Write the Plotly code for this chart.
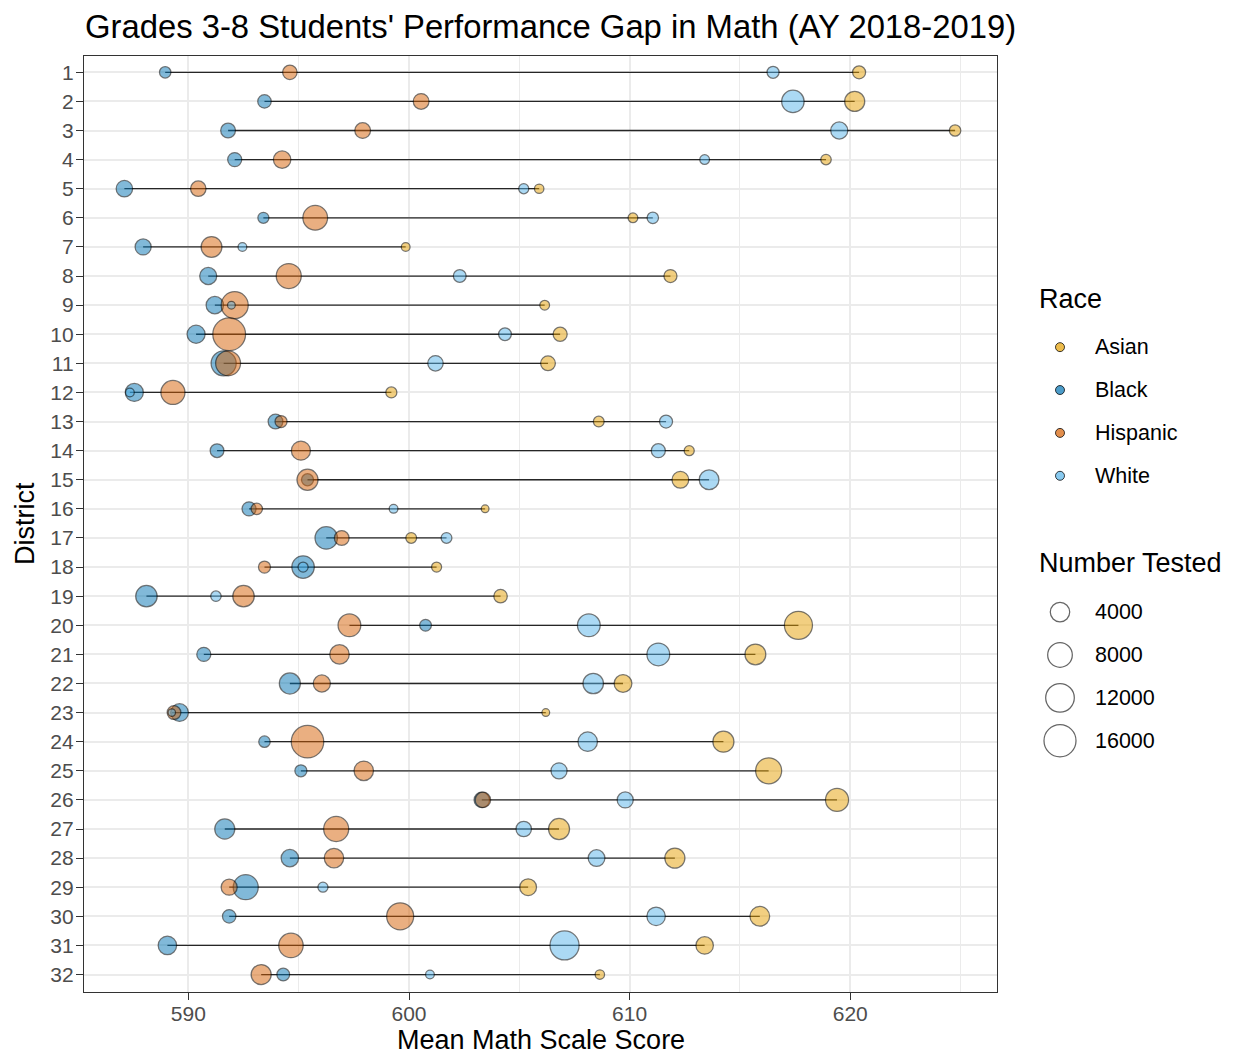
import numpy as np
import plotly.graph_objects as go

# ---------------- data ----------------
districts = list(range(1, 33))
races = ["Asian", "Black", "Hispanic", "White"]

asian_score = [620.4, 620.2, 624.75, 618.9, 605.9, 610.15, 599.85, 611.85, 606.15, 606.85,
               606.3, 599.2, 608.6, 612.7, 612.3, 603.45, 600.1, 601.25, 604.15, 617.65,
               615.7, 609.7, 606.2, 614.25, 616.3, 619.4, 606.8, 612.05, 605.4, 615.9,
               613.4, 608.65]
asian_n = [970, 4400, 530, 330, 170, 210, 90, 970, 210, 1310,
           1580, 445, 385, 260, 2475, 20, 385, 260, 1100, 11350,
           4880, 3000, 20, 5090, 9300, 6630, 5090, 4400, 2475, 4200,
           2840, 170]

black_score = [588.95, 593.45, 591.8, 592.1, 587.1, 593.4, 587.95, 590.9, 591.2, 590.35,
               591.6, 587.55, 593.95, 591.3, 595.4, 592.75, 596.25, 595.2, 588.1, 600.75,
               590.7, 594.6, 589.6, 593.45, 595.1, 603.3, 591.65, 594.6, 592.6, 591.85,
               589.05, 594.3]
black_n = [530, 1100, 1580, 1310, 2330, 445, 2140, 2630, 2840, 3170,
           8400, 3170, 1580, 1200, 680, 1310, 6150, 6150, 5380, 605,
           1310, 5090, 3000, 530, 680, 1870, 4400, 2840, 8360, 1100,
           3400, 880]

hispanic_score = [594.6, 600.55, 597.9, 594.25, 590.45, 595.75, 591.05, 594.55, 592.1, 591.85,
                  591.8, 589.3, 594.2, 595.1, 595.4, 593.1, 596.95, 593.45, 592.5, 597.3,
                  596.85, 596.05, 589.35, 595.4, 597.95, 603.35, 596.7, 596.6, 591.85, 599.6,
                  594.65, 593.3]
hispanic_n = [1460, 2000, 2000, 2840, 1870, 8090, 4880, 8360, 10300, 16940,
              8200, 7470, 680, 3760, 5090, 530, 1580, 680, 5380, 6380,
              4010, 2630, 1200, 16550, 4010, 1870, 8360, 4010, 2140, 10300,
              7820, 4400]

white_score = [616.5, 617.4, 619.5, 613.4, 605.2, 611.05, 592.45, 602.3, 591.95, 604.35,
               601.2, 587.35, 611.65, 611.3, 613.6, 599.3, 601.7, 595.2, 591.25, 608.15,
               611.3, 608.35, 589.25, 608.1, 606.8, 609.8, 605.2, 608.5, 596.1, 611.2,
               607.05, 600.95]
white_n = [680, 6150, 2630, 210, 260, 530, 90, 880, 20, 880,
           1870, 90, 970, 1310, 4200, 90, 385, 260, 330, 6380,
           6380, 4670, 10, 4010, 2140, 2140, 1870, 2475, 260, 3400,
           12450, 90]

size_breaks = [4000, 8000, 12000, 16000]

# ---------------- styling ----------------
FONT = "Liberation Sans, Arial, Helvetica, sans-serif"
fills = {
    "Asian": "rgba(230,159,0,0.7)",
    "Black": "rgba(0,114,178,0.7)",
    "Hispanic": "rgba(213,94,0,0.7)",
    "White": "rgba(86,180,233,0.7)",
}
OUTLINE = "rgba(0,0,0,0.75)"
LW = 1.25


def diam(n):
    n = np.asarray(n, dtype=float)
    return 8.1 + 0.199 * np.sqrt(n) - LW


scores = {"Asian": asian_score, "Black": black_score,
          "Hispanic": hispanic_score, "White": white_score}
counts = {"Asian": asian_n, "Black": black_n,
          "Hispanic": hispanic_n, "White": white_n}

fig = go.Figure()

# connecting segments (min to max score in each district)
all_scores = np.array([asian_score, black_score, hispanic_score, white_score])
seg_x, seg_y = [], []
for i, d in enumerate(districts):
    seg_x += [all_scores[:, i].min(), all_scores[:, i].max(), None]
    seg_y += [d, d, None]
fig.add_trace(go.Scatter(x=seg_x, y=seg_y, mode="lines",
                         line=dict(color="#262626", width=1.3),
                         showlegend=False, hoverinfo="skip"))

for r in races:
    fig.add_trace(go.Scatter(
        x=scores[r], y=districts, mode="markers", name=r,
        marker=dict(size=diam(counts[r]), color=fills[r],
                    line=dict(color=OUTLINE, width=LW)),
        showlegend=False,
    ))

# ---------------- geometry ----------------
W, H = 1236, 1055
ML, MT, MB = 84, 55.5, 63.3
plot_w = W - ML
plot_h = H - MT - MB
panel_right = 997
xdom_end = (panel_right - ML) / plot_w


def px_to_paper_x(px):
    return (px - ML) / plot_w


def px_to_paper_y(py):
    return (H - MB - py) / plot_h


# ---------------- legend (drawn in an auxiliary pixel-scaled panel) ----------------
LX0, LX1 = 1000, 1236
key_x, lab_x, title_x = 1060, 1093, 1037
race_y0, size_y0, step = 346.7, 611.7, 42.9
race_title_y, size_title_y = 299, 563

annotations = []
for i, r in enumerate(races):
    fig.add_trace(go.Scatter(
        x=[key_x], y=[race_y0 + i * step], mode="markers", xaxis="x2", yaxis="y2",
        marker=dict(size=9, color=fills[r], line=dict(color=OUTLINE, width=1)),
        showlegend=False, hoverinfo="skip"))
    annotations.append(dict(x=lab_x, y=race_y0 + i * step, xref="x2", yref="y2",
                            text=r, showarrow=False, xanchor="left", yanchor="middle",
                            font=dict(size=21.5, color="black", family=FONT)))
for j, s in enumerate(size_breaks):
    fig.add_trace(go.Scatter(
        x=[key_x], y=[size_y0 + j * step], mode="markers", xaxis="x2", yaxis="y2",
        marker=dict(size=float(diam(s)), color="rgba(255,255,255,0)",
                    line=dict(color="#666666", width=LW)),
        showlegend=False, hoverinfo="skip"))
    annotations.append(dict(x=lab_x, y=size_y0 + j * step, xref="x2", yref="y2",
                            text=str(s), showarrow=False, xanchor="left", yanchor="middle",
                            font=dict(size=21.5, color="black", family=FONT)))
annotations.append(dict(x=title_x, y=race_title_y, xref="x2", yref="y2", text="Race",
                        showarrow=False, xanchor="left", yanchor="middle",
                        font=dict(size=27, color="black", family=FONT)))
annotations.append(dict(x=title_x, y=size_title_y, xref="x2", yref="y2", text="Number Tested",
                        showarrow=False, xanchor="left", yanchor="middle",
                        font=dict(size=27, color="black", family=FONT)))

# axis titles
annotations.append(dict(x=px_to_paper_x((ML + panel_right) / 2), y=px_to_paper_y(1040),
                        xref="paper", yref="paper", text="Mean Math Scale Score",
                        showarrow=False, xanchor="center", yanchor="middle",
                        font=dict(size=27, color="black", family=FONT)))
annotations.append(dict(x=px_to_paper_x(25), y=px_to_paper_y((MT + H - MB) / 2),
                        xref="paper", yref="paper", text="District", textangle=-90,
                        showarrow=False, xanchor="center", yanchor="middle",
                        font=dict(size=27, color="black", family=FONT)))

x2dom_start = (LX0 - ML) / plot_w

fig.update_layout(
    width=W, height=H,
    margin=dict(l=ML, r=0, t=MT, b=MB, pad=0, autoexpand=False),
    paper_bgcolor="white", plot_bgcolor="white",
    font=dict(family=FONT, color="black"),
    title=dict(text="Grades 3-8 Students' Performance Gap in Math (AY 2018-2019)",
               x=85 / W, xanchor="left", xref="container",
               y=1 - 27 / H, yanchor="middle", yref="container",
               font=dict(size=32.8, color="black", family=FONT)),
    showlegend=False,
    annotations=annotations,
    xaxis=dict(
        domain=[0, xdom_end], range=[585.27, 626.65], automargin=False,
        tickvals=[590, 600, 610, 620], ticks="outside", ticklen=7, tickwidth=1.2,
        tickcolor="#333333", showgrid=True, gridcolor="#EBEBEB", gridwidth=2,
        minor=dict(tickvals=[595, 605, 615, 625], showgrid=True, gridcolor="#EBEBEB",
                   gridwidth=1, ticks=""),
        showline=True, mirror=True, linecolor="#333333", linewidth=1.3, zeroline=False,
        tickfont=dict(size=21, color="#4D4D4D", family=FONT),
        ticklabelstandoff=-4,
    ),
    yaxis=dict(
        range=[32.6, 0.44], tickvals=districts, ticktext=[str(d) for d in districts],
        automargin=False,
        ticks="outside", ticklen=7, tickwidth=1.2, tickcolor="#333333",
        showgrid=True, gridcolor="#EBEBEB", gridwidth=2,
        showline=True, mirror=True, linecolor="#333333", linewidth=1.3, zeroline=False,
        tickfont=dict(size=21, color="#4D4D4D", family=FONT),
        ticklabelstandoff=-2,
    ),
    xaxis2=dict(domain=[x2dom_start, 1], range=[LX0, LX1], visible=False,
                anchor="y2", fixedrange=True),
    yaxis2=dict(domain=[0, 1], range=[H - MB, MT], visible=False,
                anchor="x2", fixedrange=True),
)

fig.write_html("out.html",
               config={"displayModeBar": False},
               post_script="document.body.style.margin='0';document.body.style.padding='0';")
